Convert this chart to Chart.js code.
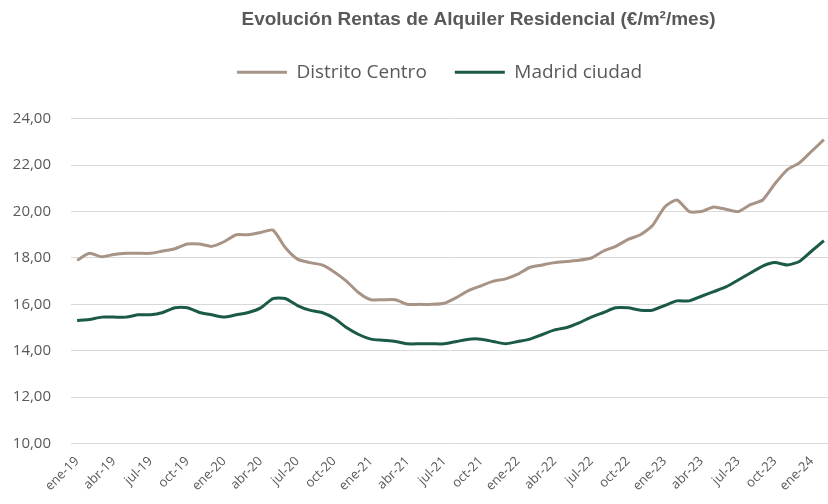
<!DOCTYPE html>
<html lang="es">
<head>
<meta charset="utf-8">
<title>Evolución Rentas de Alquiler Residencial</title>
<script src="https://cdn.jsdelivr.net/npm/chart.js@4"></script>
<style>
  html, body { margin: 0; padding: 0; background: #fff; overflow: hidden; }
  #wrap { position: relative; width: 830px; height: 504px; }
</style>
</head>
<body>
<div id="wrap"><canvas id="chart"></canvas></div>
<script>
const months = [
  'ene-19','feb-19','mar-19','abr-19','may-19','jun-19','jul-19','ago-19','sep-19','oct-19','nov-19','dic-19',
  'ene-20','feb-20','mar-20','abr-20','may-20','jun-20','jul-20','ago-20','sep-20','oct-20','nov-20','dic-20',
  'ene-21','feb-21','mar-21','abr-21','may-21','jun-21','jul-21','ago-21','sep-21','oct-21','nov-21','dic-21',
  'ene-22','feb-22','mar-22','abr-22','may-22','jun-22','jul-22','ago-22','sep-22','oct-22','nov-22','dic-22',
  'ene-23','feb-23','mar-23','abr-23','may-23','jun-23','jul-23','ago-23','sep-23','oct-23','nov-23','dic-23',
  'ene-24','feb-24'
];

const distritoCentro = [
  17.9, 18.2, 18.05, 18.15, 18.2, 18.2, 18.2, 18.3, 18.4, 18.6, 18.6, 18.5,
  18.7, 19.0, 19.0, 19.1, 19.2, 18.45, 17.95, 17.8, 17.7, 17.4, 17.0, 16.5,
  16.2, 16.2, 16.2, 16.0, 16.0, 16.0, 16.05, 16.3, 16.6, 16.8, 17.0, 17.1,
  17.3, 17.6, 17.7, 17.8, 17.85, 17.9, 18.0, 18.3, 18.5, 18.8, 19.0, 19.4,
  20.2, 20.5, 20.0, 20.0, 20.2, 20.1, 20.0, 20.3, 20.5, 21.2, 21.8, 22.1,
  22.6, 23.1
];

const madridCiudad = [
  15.3, 15.35, 15.45, 15.45, 15.45, 15.55, 15.55, 15.65, 15.85, 15.85, 15.65, 15.55,
  15.45, 15.55, 15.65, 15.85, 16.25, 16.25, 15.95, 15.75, 15.65, 15.4, 15.0, 14.7,
  14.5, 14.45, 14.4, 14.3, 14.3, 14.3, 14.3, 14.4, 14.5, 14.5, 14.4, 14.3,
  14.4, 14.5, 14.7, 14.9, 15.0, 15.2, 15.45, 15.65, 15.85, 15.85, 15.75, 15.75,
  15.95, 16.15, 16.15, 16.35, 16.55, 16.75, 17.05, 17.35, 17.65, 17.8, 17.7, 17.85,
  18.3, 18.75
];

const yTicks = [10, 12, 14, 16, 18, 20, 22, 24];

const textGrey = '#595959';

// title and legend sit a bit right of centre in the original, and the legend has room below it
const boxTweaks = {
  id: 'boxTweaks',
  beforeLayout(chart) {
    const lg = chart.legend;
    if (lg && !lg._tall) {
      const fit = lg.fit;
      lg.fit = function () {
        fit.call(this);
        this.height += 27;
      };
      lg._tall = true;
    }
  },
  afterLayout(chart) {
    chart.titleBlock.left += 57;
    chart.titleBlock.right += 57;
    chart.legend.left += 18;
    chart.legend.right += 18;
  }
};

new Chart(document.getElementById('chart').getContext('2d'), {
  type: 'line',
  data: {
    labels: months,
    datasets: [
      {
        label: 'Distrito Centro',
        data: distritoCentro,
        borderColor: '#a89487',
        backgroundColor: '#a89487',
        borderWidth: 3,
        pointRadius: 0,
        tension: 0.2
      },
      {
        label: 'Madrid ciudad',
        data: madridCiudad,
        borderColor: '#1b5a48',
        backgroundColor: '#1b5a48',
        borderWidth: 3,
        pointRadius: 0,
        tension: 0.2
      }
    ]
  },
  options: {
    responsive: true,
    maintainAspectRatio: false,
    animation: false,
    devicePixelRatio: 1,
    layout: { padding: { left: 13, right: 0, top: 8, bottom: 8 } },
    plugins: {
      title: {
        display: true,
        text: 'Evolución Rentas de Alquiler Residencial (€/m²/mes)',
        color: textGrey,
        font: { family: 'Liberation Sans', size: 19, weight: 'bold' },
        padding: { top: 0, bottom: 4 }
      },
      legend: {
        labels: {
          color: textGrey,
          font: { family: 'Open Sans', size: 19 },
          boxWidth: 50,
          boxHeight: 3,
          padding: 28,
          generateLabels: (chart) =>
            Chart.defaults.plugins.legend.labels.generateLabels(chart)
              .map(item => ({ ...item, lineWidth: 0 }))
        }
      },
      tooltip: { enabled: false }
    },
    scales: {
      x: {
        offset: true,
        grid: { display: false },
        border: { display: false },
        afterFit: (scale) => { scale.paddingLeft = 0; scale.paddingRight = 0; },
        ticks: {
          autoSkip: false,
          minRotation: 45,
          maxRotation: 45,
          padding: 2,
          color: textGrey,
          font: { family: 'Open Sans', size: 13 },
          callback: (v, i) => (i % 3 === 0 ? months[i] : '')
        }
      },
      y: {
        min: yTicks[0],
        max: yTicks[yTicks.length - 1],
        afterBuildTicks: (axis) => { axis.ticks = yTicks.map(v => ({ value: v })); },
        afterFit: (axis) => { axis.width = 58; },
        border: { display: false },
        grid: { color: '#d9d9d9', lineWidth: 1, drawTicks: false },
        ticks: {
          padding: 20,
          color: textGrey,
          font: { family: 'Open Sans', size: 15 },
          callback: (v) => v.toFixed(2).replace('.', ',')
        }
      }
    }
  },
  plugins: [boxTweaks]
});
</script>
</body>
</html>
